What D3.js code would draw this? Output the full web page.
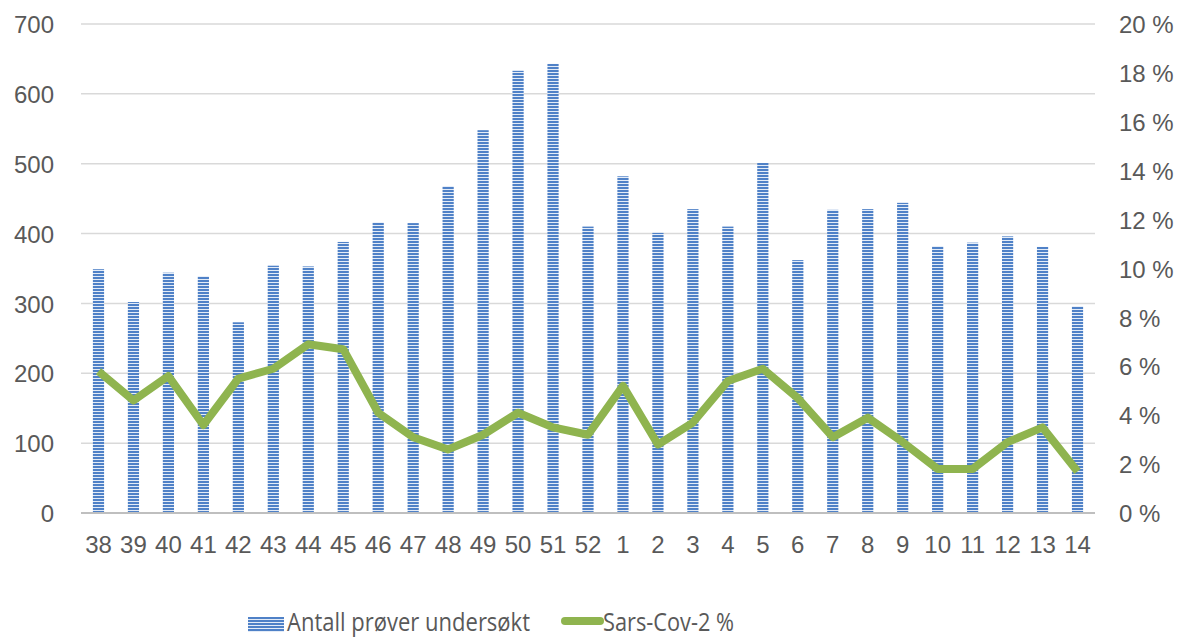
<!DOCTYPE html>
<html>
<head>
<meta charset="utf-8">
<script src="https://cdn.jsdelivr.net/npm/d3@7"></script>
<style>
  body { margin: 0; background: #fff; }
  svg { display: block; font-family: 'Open Sans', sans-serif; }
  .axis text { fill: #595959; font-size: 24px; }
  .axis .domain { display: none; }
</style>
</head>
<body>
<div id="chart"></div>
<script>
'use strict';

// uke-nummer
const weeks = ['38', '39', '40', '41', '42', '43', '44', '45', '46', '47', '48', '49', '50', '51', '52',
  '1', '2', '3', '4', '5', '6', '7', '8', '9', '10', '11', '12', '13', '14'];

// Antall prøver undersøkt
const samples = [349, 302, 344, 339, 273, 354, 353, 388, 416, 415, 468, 548, 633, 643, 410,
  482, 401, 435, 410, 501, 362, 434, 435, 444, 382, 387, 396, 381, 296];

// Sars-Cov-2 %
const positivePct = [5.8, 4.6, 5.6, 3.6, 5.5, 5.9, 6.9, 6.7, 4.1, 3.1, 2.6, 3.2, 4.1, 3.5, 3.2,
  5.2, 2.8, 3.7, 5.4, 5.9, 4.7, 3.1, 3.9, 2.9, 1.8, 1.8, 2.9, 3.5, 1.7];

const leftTicks = [0, 100, 200, 300, 400, 500, 600, 700];
const rightTicks = [0, 2, 4, 6, 8, 10, 12, 14, 16, 18, 20];

const legendLabels = ['Antall prøver undersøkt', 'Sars-Cov-2 %'];

const width = 1185, height = 640;
const plot = { left: 81, right: 1095, top: 24, bottom: 513 };
const barColor = '#4f81c7';
const lineColor = '#8fb44f';

let svg = d3.select('#chart').append('svg')
  .attr('width', width).attr('height', height);

// striped fill, like the excel pattern
let defs = svg.append('defs');
let pattern = defs.append('pattern').attr('id', 'stripes')
  .attr('patternUnits', 'userSpaceOnUse').attr('width', 6).attr('height', 3);
pattern.append('rect').attr('width', 6).attr('height', 3).attr('fill', '#e4ecf7');
pattern.append('rect').attr('y', 1).attr('width', 6).attr('height', 2).attr('fill', barColor);

let x = d3.scaleBand().domain(weeks).range([plot.left, plot.right])
  .paddingInner(0.68).paddingOuter(0.34);
let yLeft = d3.scaleLinear().domain([0, 700]).range([plot.bottom, plot.top]);
let yRight = d3.scaleLinear().domain([0, 20]).range([plot.bottom, plot.top]);

// gridlines
svg.append('g').selectAll('line').data(leftTicks.slice(1)).enter().append('line')
  .attr('x1', plot.left).attr('x2', plot.right)
  .attr('y1', d => yLeft(d)).attr('y2', d => yLeft(d))
  .attr('stroke', '#d9d9d9').attr('stroke-width', 1.5);

// bars
svg.append('g').selectAll('rect').data(samples).enter().append('rect')
  .attr('x', (d, i) => x(weeks[i]))
  .attr('y', d => yLeft(d))
  .attr('width', x.bandwidth())
  .attr('height', d => yLeft(0) - yLeft(d))
  .attr('fill', 'url(#stripes)');

// baseline
svg.append('line')
  .attr('x1', plot.left).attr('x2', plot.right)
  .attr('y1', yLeft(0)).attr('y2', yLeft(0))
  .attr('stroke', '#bfbfbf').attr('stroke-width', 2);

// line series
let line = d3.line()
  .x((d, i) => x(weeks[i]) + x.bandwidth() / 2)
  .y(d => yRight(d));

svg.append('path').datum(positivePct)
  .attr('d', line)
  .attr('fill', 'none')
  .attr('stroke', lineColor)
  .attr('stroke-width', 8)
  .attr('stroke-linejoin', 'round');

// axes
let leftAxis = d3.axisLeft(yLeft).tickValues(leftTicks).tickSize(0).tickPadding(0);
svg.append('g').classed('axis', true)
  .attr('transform', 'translate(54,0)').call(leftAxis)
  .selectAll('text').attr('dy', '0.36em');

let rightAxis = d3.axisRight(yRight).tickValues(rightTicks).tickSize(0).tickPadding(0)
  .tickFormat(d => d + ' %');
svg.append('g').classed('axis', true)
  .attr('transform', 'translate(1119,0)').call(rightAxis)
  .selectAll('text').attr('dy', '0.36em');

let bottomAxis = d3.axisBottom(x).tickSize(0).tickPadding(0);
svg.append('g').classed('axis', true)
  .attr('transform', 'translate(0,536)').call(bottomAxis)
  .selectAll('text').attr('dy', '0.71em');

// legend
let legend = svg.append('g').attr('transform', 'translate(0,622)');
legend.append('rect')
  .attr('x', 248).attr('y', -5).attr('width', 36).attr('height', 15)
  .attr('fill', 'url(#stripes)');
legend.append('text')
  .attr('x', 287).attr('y', 0).attr('dy', '0.36em')
  .attr('fill', '#595959').style('font-size', '25px')
  .attr('textLength', 243).attr('lengthAdjust', 'spacingAndGlyphs')
  .text(legendLabels[0]);
legend.append('line')
  .attr('x1', 565).attr('x2', 600).attr('y1', -1).attr('y2', -1)
  .attr('stroke', lineColor).attr('stroke-width', 8).attr('stroke-linecap', 'round');
legend.append('text')
  .attr('x', 603).attr('y', 0).attr('dy', '0.36em')
  .attr('fill', '#595959').style('font-size', '25px')
  .attr('textLength', 131).attr('lengthAdjust', 'spacingAndGlyphs')
  .text(legendLabels[1]);
</script>
</body>
</html>
